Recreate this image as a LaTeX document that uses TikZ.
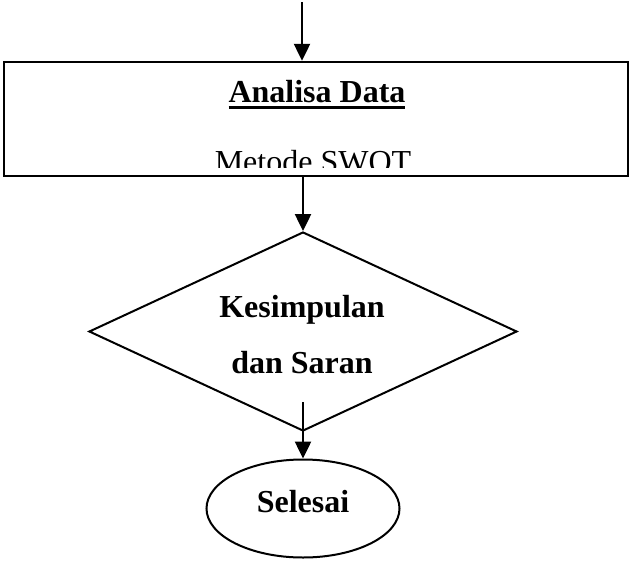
\documentclass[tikz,border=0pt]{standalone}
\usepackage{fontspec}
\setmainfont{Liberation Serif}
\usetikzlibrary{arrows.meta,shapes.geometric}
\newcommand\myul[1]{\setbox0\hbox{#1}\rlap{\raisebox{-6.5pt}{\rule{\wd0}{3pt}}}\box0}
\begin{document}
\begin{tikzpicture}[x=1pt,y=-1pt,
  arr/.style={line width=2.5pt,-{Triangle[length=17pt,width=16pt]}},
  txt/.style={font=\fontsize{32}{38}\selectfont,inner sep=0pt,anchor=base},
  btxt/.style={txt,font=\fontsize{32}{38}\selectfont\bfseries},
  shp/.style={draw,line width=2pt,inner sep=0pt}]
\useasboundingbox (0,0) rectangle (631,562);
% process box
\node[shp,line width=2.5pt,minimum width=624pt,minimum height=114pt] (box) at (316,119) {};
\node[btxt] (ad) at (317,102) {\myul{Analisa Data}};
\begin{scope}
\clip (0,140) rectangle (631,167);
\node[txt] (swot) at (313,172) {Metode SWOT};
\end{scope}
% decision
\node[shp,diamond,minimum width=428pt,minimum height=199pt] (dia) at (303,331.5) {};
\node[btxt] (k1) at (302,317) {Kesimpulan};
\node[btxt] (k2) at (302,373) {dan Saran};
% terminator
\node[shp,ellipse,minimum width=193pt,minimum height=98pt] (sel) at (303,508.5) {};
\node[btxt] (selt) at (303,512) {Selesai};
% connectors
\coordinate (t0) at (302,2);
\draw[arr] (t0) -- (t0 |- box.north);
\draw[arr] (dia.north |- box.south) -- (dia.north);
\coordinate (t3) at (303,402);
\draw[arr] (t3) -- (t3 |- sel.north);
\end{tikzpicture}
\end{document}
